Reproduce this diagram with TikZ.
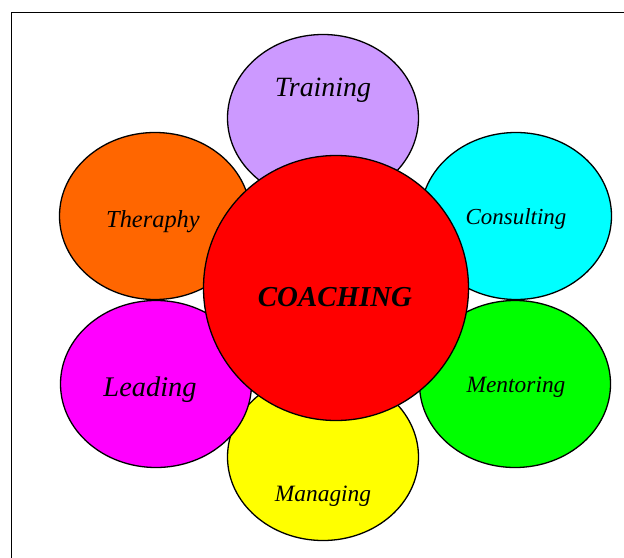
\documentclass[tikz,border=0pt]{standalone}
\usepackage{fontspec}
\setmainfont{Liberation Serif}
\usetikzlibrary{shapes.geometric}
\definecolor{cTrain}{HTML}{CC99FF}
\definecolor{cCons}{HTML}{00FFFF}
\definecolor{cMent}{HTML}{00FF00}
\definecolor{cMan}{HTML}{FFFF00}
\definecolor{cLead}{HTML}{FF00FF}
\definecolor{cTher}{HTML}{FF6600}
\definecolor{cCoach}{HTML}{FF0000}
\tikzset{
  petal/.style={ellipse, draw=black, line width=1.3bp, inner sep=0pt,
    minimum width=191bp, minimum height=167bp},
  hub/.style={circle, draw=black, line width=1.3bp, inner sep=0pt,
    minimum size=265bp, fill=cCoach},
  lbl/.style={inner sep=0pt, font=\itshape},
  frameline/.style={line width=1.8bp, draw=black}
}
\begin{document}
\begin{tikzpicture}[x=1bp, y=-1bp]
\useasboundingbox (0,0) rectangle (624,558);
\coordinate (fTL) at (11.5,12.5);
\coordinate (fTR) at (624,12.5);
\coordinate (fBL) at (11.5,558);
\draw[frameline] (fBL) -- (fTL) -- (fTR);
% petals
\node[petal, fill=cTrain] (train) at (323,118) {};
\node[petal, fill=cCons] (cons) at (516,216) {};
\node[petal, fill=cMent] (ment) at (515,384) {};
\node[petal, fill=cMan] (man) at (323,457) {};
\node[petal, fill=cLead] (lead) at (156,384) {};
\node[petal, fill=cTher] (ther) at (155,216) {};
% hub
\node[hub] (coach) at (336,288) {};
% labels
\node[lbl, font=\itshape\fontsize{28}{30}\selectfont] (tTrain) at (323,90) {Training};
\node[lbl, font=\itshape\fontsize{24.5}{26}\selectfont] (tTher) at (153,222) {Theraphy};
\node[lbl, font=\itshape\fontsize{23}{25}\selectfont] (tCons) at (516,219) {Consulting};
\node[lbl, font=\itshape\fontsize{28.5}{30}\selectfont] (tLead) at (150,390) {Leading};
\node[lbl, font=\itshape\fontsize{23.5}{25}\selectfont] (tMent) at (516,387) {Mentoring};
\node[lbl, font=\itshape\fontsize{23.5}{25}\selectfont] (tMan) at (323,496) {Managing};
\node[lbl, font=\bfseries\itshape\fontsize{29}{31}\selectfont] (tCoach) at (335,297) {COACHING};
\end{tikzpicture}
\end{document}
